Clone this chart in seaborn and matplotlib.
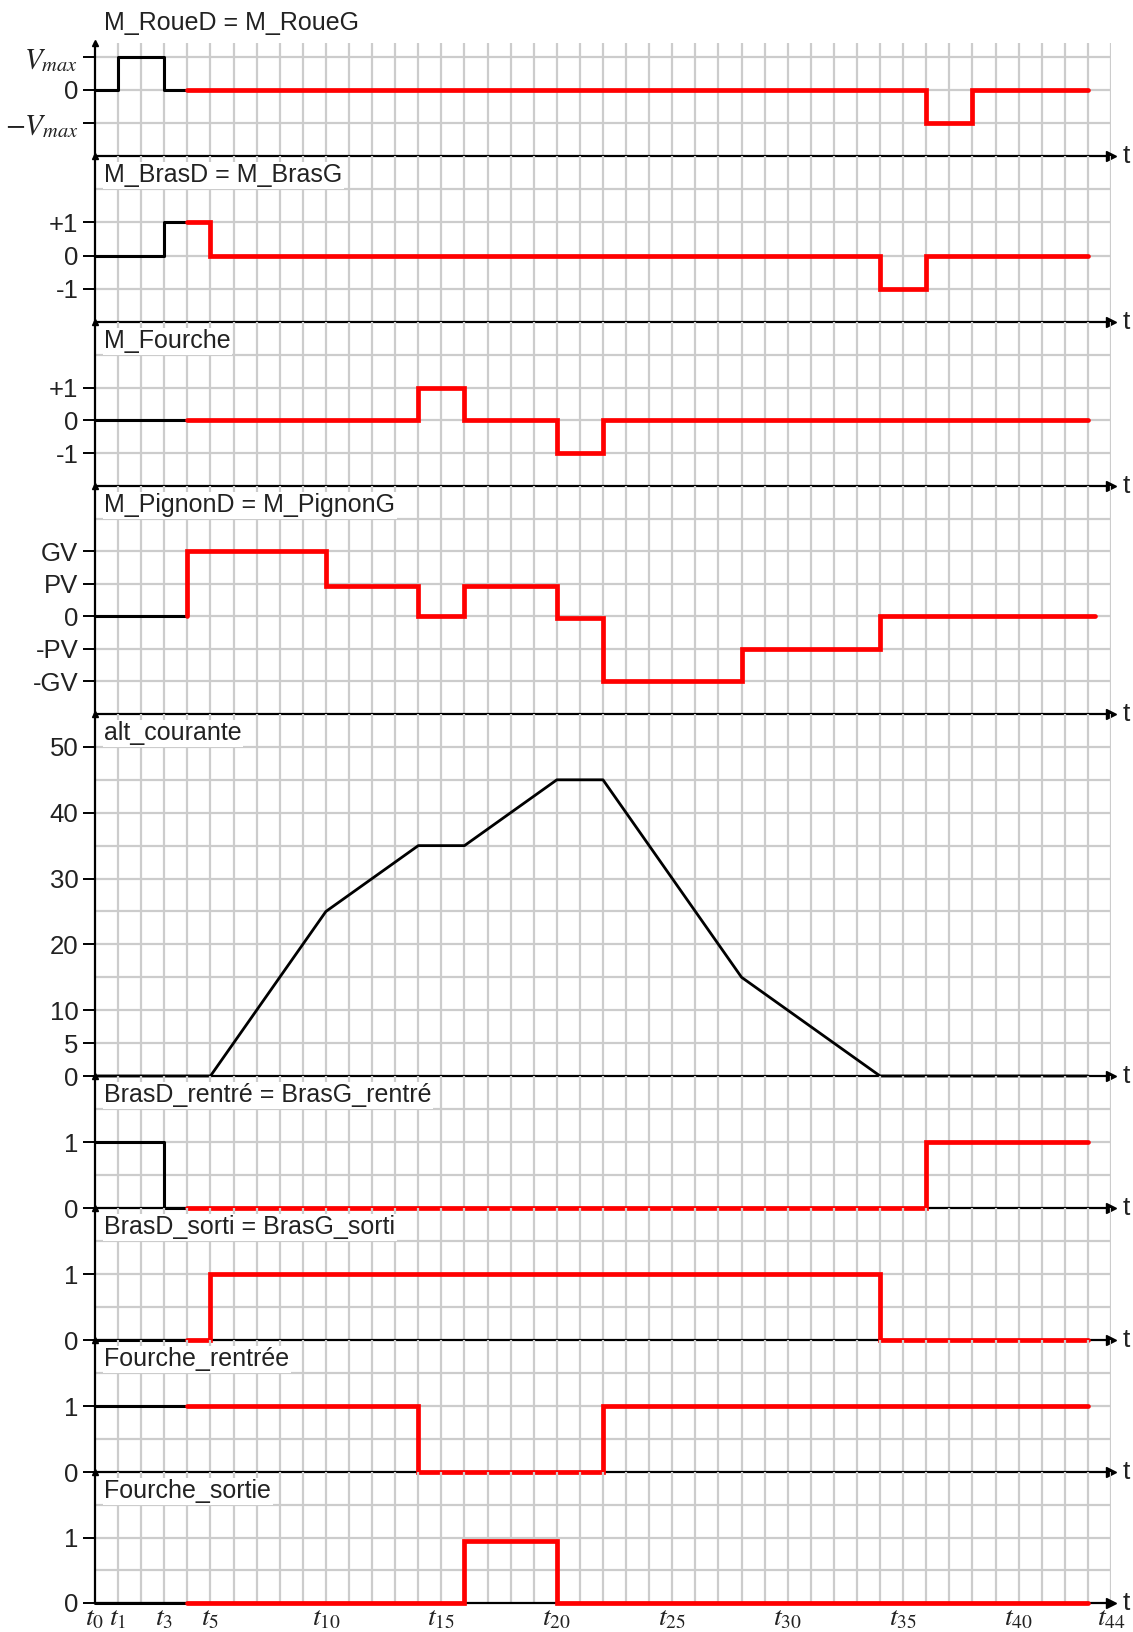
import numpy as np
import pandas as pd
import matplotlib
matplotlib.use("Agg")
import matplotlib.pyplot as plt
import seaborn as sns

# chronogramme : temps en unités t0 .. t44
t_max = 44
t_fin = 43

# M_RoueD = M_RoueG  (1 = Vmax)
roue_noir_t = [0, 1, 3, 4]
roue_noir_v = [0, 1, 0, 0]
roue_rouge_t = [4, 36, 38, t_fin]
roue_rouge_v = [0, -1, 0, 0]

# M_BrasD = M_BrasG
bras_noir_t = [0, 3, 4]
bras_noir_v = [0, 1, 1]
bras_rouge_t = [4, 5, 34, 36, t_fin]
bras_rouge_v = [1, 0, -1, 0, 0]

# M_Fourche
fourche_noir_t = [0, 4]
fourche_noir_v = [0, 0]
fourche_rouge_t = [4, 14, 16, 20, 22, t_fin]
fourche_rouge_v = [0, 1, 0, -1, 0, 0]

# M_PignonD = M_PignonG  (2 = GV, 1 = PV)
pignon_noir_t = [0, 4]
pignon_noir_v = [0, 0]
pignon_rouge_t = [4, 4, 10, 14, 16, 20, 22, 28, 34, 43.3]
pignon_rouge_v = [0, 2, 0.92, 0, 0.92, -0.06, -2, -1, 0, 0]

# alt_courante
alt_t = [0, 5, 10, 14, 16, 20, 22, 28, 34, t_fin]
alt_v = [0, 0, 25, 35, 35, 45, 45, 15, 0, 0]

# BrasD_rentré = BrasG_rentré
rentre_noir_t = [0, 3, 4]
rentre_noir_v = [1, 0, 0]
rentre_rouge_t = [4, 36, t_fin]
rentre_rouge_v = [0, 1, 1]

# BrasD_sorti = BrasG_sorti
sorti_noir_t = [0, 4]
sorti_noir_v = [0, 0]
sorti_rouge_t = [4, 5, 34, t_fin]
sorti_rouge_v = [0, 1, 0, 0]

# Fourche_rentrée
frentree_noir_t = [0, 4]
frentree_noir_v = [1, 1]
frentree_rouge_t = [4, 14, 22, t_fin]
frentree_rouge_v = [1, 0, 1, 1]

# Fourche_sortie
fsortie_noir_t = [0, 4]
fsortie_noir_v = [0, 0]
fsortie_rouge_t = [4, 16, 20, t_fin]
fsortie_rouge_v = [0, 0.94, 0, 0]

x_ticks = [0, 1, 3, 5, 10, 15, 20, 25, 30, 35, 40, 44]
x_labels = [r"$t_{%d}$" % k for k in x_ticks]

sns.set_theme(style="white")
plt.rcParams["font.family"] = ["Liberation Sans", "DejaVu Sans"]
plt.rcParams["mathtext.fontset"] = "stix"

W, H = 1133, 1632
fig = plt.figure(figsize=(W / 100, H / 100), dpi=100)
x_left, x_right = 95, 1111

# (titre, haut px, bas px, ylim, ticks, labels, grille y, données)
panneaux = [
    ("M_RoueD = M_RoueG", 43, 156, (-2, 1.42), [-1, 0, 1],
     [r"$-V_{max}$", "0", r"$V_{max}$"], [-1, 0, 1],
     (roue_noir_t, roue_noir_v, roue_rouge_t, roue_rouge_v)),
    ("M_BrasD = M_BrasG", 156, 322, (-2, 3), [-1, 0, 1],
     ["-1", "0", "+1"], [-1, 0, 1, 2],
     (bras_noir_t, bras_noir_v, bras_rouge_t, bras_rouge_v)),
    ("M_Fourche", 322, 486, (-2, 3), [-1, 0, 1],
     ["-1", "0", "+1"], [-1, 0, 1, 2],
     (fourche_noir_t, fourche_noir_v, fourche_rouge_t, fourche_rouge_v)),
    ("M_PignonD = M_PignonG", 486, 714, (-3, 4), [-2, -1, 0, 1, 2],
     ["-GV", "-PV", "0", "PV", "GV"], [-2, -1, 0, 1, 2, 3],
     (pignon_noir_t, pignon_noir_v, pignon_rouge_t, pignon_rouge_v)),
    ("alt_courante", 714, 1076, (0, 55), [0, 5, 10, 20, 30, 40, 50],
     ["0", "5", "10", "20", "30", "40", "50"], list(range(5, 55, 5)),
     None),
    ("BrasD_rentré = BrasG_rentré", 1076, 1208, (0, 2), [0, 1],
     ["0", "1"], [0.5, 1, 1.5],
     (rentre_noir_t, rentre_noir_v, rentre_rouge_t, rentre_rouge_v)),
    ("BrasD_sorti = BrasG_sorti", 1208, 1340, (0, 2), [0, 1],
     ["0", "1"], [0.5, 1, 1.5],
     (sorti_noir_t, sorti_noir_v, sorti_rouge_t, sorti_rouge_v)),
    ("Fourche_rentrée", 1340, 1472, (0, 2), [0, 1],
     ["0", "1"], [0.5, 1, 1.5],
     (frentree_noir_t, frentree_noir_v, frentree_rouge_t, frentree_rouge_v)),
    ("Fourche_sortie", 1472, 1603, (0, 2), [0, 1],
     ["0", "1"], [0.5, 1, 1.5],
     (fsortie_noir_t, fsortie_noir_v, fsortie_rouge_t, fsortie_rouge_v)),
]

grille = "#cccccc"
for i, (titre, haut, bas, ylim, yt, yl, ygrid, data) in enumerate(panneaux):
    ax = fig.add_axes([x_left / W, 1 - bas / H, (x_right - x_left) / W, (bas - haut) / H])
    ax.set_xlim(0, t_max)
    ax.set_ylim(*ylim)
    ax.set_facecolor("none")

    # grille façon papier millimétré
    for xg in range(1, t_max + 1):
        ax.axvline(xg, color=grille, lw=1.6, zorder=0)
    for yg in ygrid:
        ax.axhline(yg, color=grille, lw=1.6, zorder=0)

    if data is None:
        sns.lineplot(x=alt_t, y=alt_v, ax=ax, color="black", lw=2,
                     estimator=None, sort=False, legend=False, zorder=6)
    else:
        tn, vn, tr, vr = data
        sns.lineplot(x=tn, y=vn, ax=ax, color="black", lw=2.2, drawstyle="steps-post",
                     estimator=None, sort=False, legend=False, zorder=6)
        sns.lineplot(x=tr, y=vr, ax=ax, color="#ff0000", lw=3.4, drawstyle="steps-post",
                     estimator=None, sort=False, legend=False, zorder=7,
                     solid_joinstyle="miter")
    for ln in ax.get_lines():
        if ln.get_zorder() >= 6:
            ln.set_clip_on(False)

    for s in ["top", "right"]:
        ax.spines[s].set_visible(False)
    for s in ["left", "bottom"]:
        ax.spines[s].set_color("black")
        ax.spines[s].set_linewidth(1.6)
        ax.spines[s].set_zorder(5)

    ax.set_yticks(yt)
    ax.set_yticklabels(yl)
    ax.tick_params(axis="y", length=9, width=1.4, color="black", labelsize=18.5,
                   pad=3, left=True, labelcolor="#222222")
    if i == 0:
        for lab in ax.get_yticklabels():
            if "V" in lab.get_text():
                lab.set_fontsize(21)
    if i == len(panneaux) - 1:
        ax.set_xticks(x_ticks)
        ax.set_xticklabels(x_labels)
        ax.tick_params(axis="x", length=0, labelsize=20, pad=2, labelcolor="#222222")
    else:
        ax.set_xticks([])

    # flèches des axes
    ax.plot([t_max], [ylim[0]], marker=">", color="black", ms=7, clip_on=False, zorder=8)
    ax.plot([0], [ylim[1]], marker="^", color="black", ms=4, clip_on=False, zorder=8)
    ax.text(t_max + 0.5, ylim[0], "t", fontsize=19, va="center", ha="left", color="#222222")

    dy = 20 if i == 0 else -19
    ax.annotate(titre, xy=(0.4, 1), xycoords=("data", "axes fraction"),
                xytext=(0, dy), textcoords="offset pixels", va="center", ha="left",
                fontsize=18, color="#222222", zorder=9,
                bbox=dict(facecolor="white", edgecolor="none", pad=1))

    ax.set_xlabel("")
    ax.set_ylabel("")

fig.savefig("out.png", dpi=100)
